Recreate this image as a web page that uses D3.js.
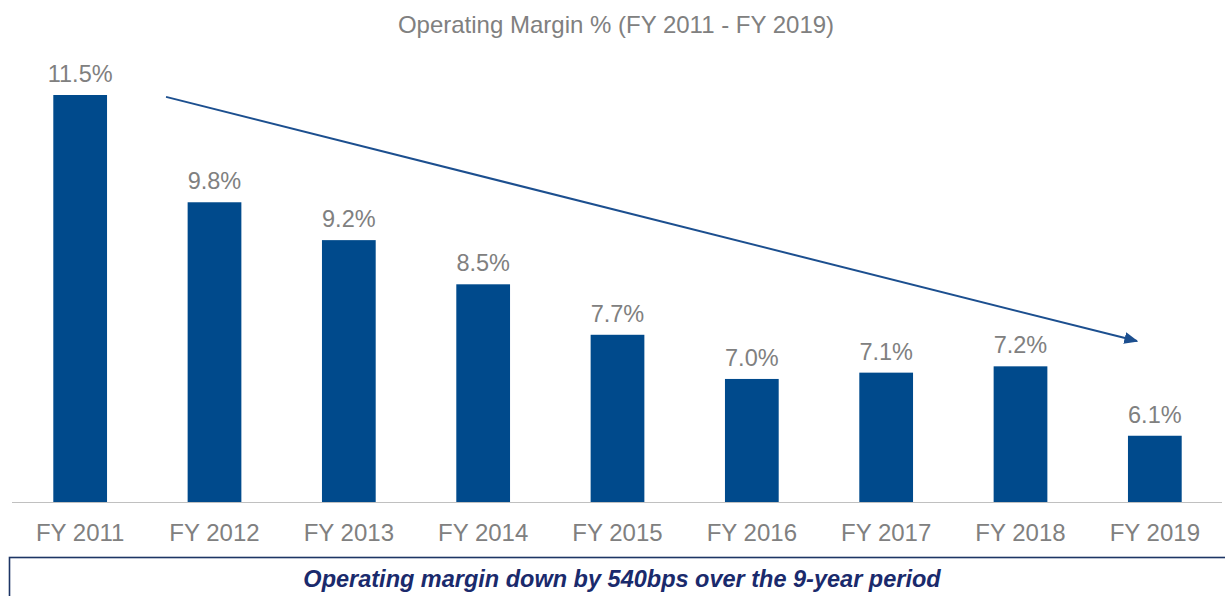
<!DOCTYPE html>
<html>
<head>
<meta charset="utf-8">
<script src="https://cdn.jsdelivr.net/npm/d3@7"></script>
<style>
  html, body { margin: 0; padding: 0; background: #fff; }
  svg { display: block; font-family: "Liberation Sans", Arial, sans-serif; }
</style>
</head>
<body>
<div id="chart"></div>
<script>
const years = ["FY 2011", "FY 2012", "FY 2013", "FY 2014", "FY 2015", "FY 2016", "FY 2017", "FY 2018", "FY 2019"];
const margins = [11.5, 9.8, 9.2, 8.5, 7.7, 7.0, 7.1, 7.2, 6.1];
const title = "Operating Margin % (FY 2011 - FY 2019)";
const note = "Operating margin down by 540bps over the 9-year period";

const W = 1225, H = 596;
const bar_color = "#004a8c";
const text_gray = "#808080";

const svg = d3.select("#chart").append("svg")
  .attr("width", W)
  .attr("height", H);

const x = d3.scaleBand()
  .domain(years)
  .range([13, 1222])
  .paddingInner(0.6)
  .paddingOuter(0.3);

// axis does not start at zero in the original
const y = d3.scaleLinear()
  .domain([5.05, 11.5])
  .range([502, 95]);

svg.append("text")
  .attr("x", 616)
  .attr("y", 33)
  .attr("text-anchor", "middle")
  .attr("font-size", 24)
  .attr("fill", text_gray)
  .text(title);

const data = years.map((d, i) => ({ year: d, value: margins[i] }));

svg.append("g").selectAll("rect")
  .data(data)
  .join("rect")
  .attr("x", d => x(d.year))
  .attr("y", d => y(d.value))
  .attr("width", x.bandwidth())
  .attr("height", d => y.range()[0] - y(d.value))
  .attr("fill", bar_color);

svg.append("g").selectAll("text")
  .data(data)
  .join("text")
  .attr("x", d => x(d.year) + x.bandwidth() / 2)
  .attr("y", d => y(d.value) - 13)
  .attr("text-anchor", "middle")
  .attr("font-size", 23.5)
  .attr("fill", text_gray)
  .text(d => d.value.toFixed(1) + "%");

// baseline
svg.append("line")
  .attr("x1", 12).attr("x2", 1222)
  .attr("y1", y.range()[0] + 0.5).attr("y2", y.range()[0] + 0.5)
  .attr("stroke", "#c0c0c0")
  .attr("stroke-width", 1);

// category labels
const xAxis = svg.append("g")
  .attr("transform", `translate(0,${y.range()[0]})`)
  .call(d3.axisBottom(x).tickSize(0).tickPadding(0));
xAxis.select(".domain").remove();
xAxis.selectAll("text")
  .attr("dy", null)
  .attr("y", 39)
  .attr("font-size", 24)
  .attr("font-family", "\"Liberation Sans\", Arial, sans-serif")
  .attr("fill", text_gray);

// trend arrow
svg.append("defs").append("marker")
  .attr("id", "head")
  .attr("viewBox", "0 0 10 10")
  .attr("refX", 9).attr("refY", 5)
  .attr("markerWidth", 14).attr("markerHeight", 12)
  .attr("markerUnits", "userSpaceOnUse")
  .attr("orient", "auto")
  .attr("preserveAspectRatio", "none")
  .append("path")
  .attr("d", "M0,0 L10,5 L0,10 Z")
  .attr("fill", "#1c4f8f");

const x_start = x("FY 2011") + x.bandwidth() + 59;
const x_end = x("FY 2019") + 9;
svg.append("line")
  .attr("x1", x_start).attr("y1", y(11.47))
  .attr("x2", x_end).attr("y2", y(7.6))
  .attr("stroke", "#1c4f8f")
  .attr("stroke-width", 2)
  .attr("marker-end", "url(#head)");

// note box
svg.append("rect")
  .attr("x", 9.5)
  .attr("y", 557.5)
  .attr("width", W)
  .attr("height", 60)
  .attr("fill", "none")
  .attr("stroke", "#1d3565")
  .attr("stroke-width", 1.6);

svg.append("text")
  .attr("x", 622)
  .attr("y", 587)
  .attr("text-anchor", "middle")
  .attr("font-size", 23.5)
  .attr("font-weight", "bold")
  .attr("font-style", "italic")
  .attr("fill", "#1a2a6c")
  .text(note);
</script>
</body>
</html>
